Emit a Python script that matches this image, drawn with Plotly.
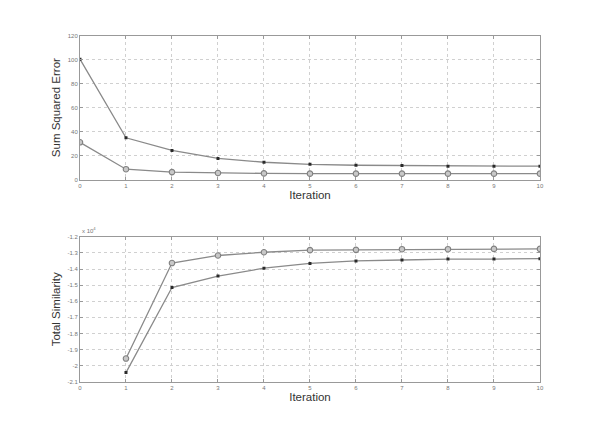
import plotly.graph_objects as go

iterations = [0, 1, 2, 3, 4, 5, 6, 7, 8, 9, 10]
sse_dot = [100.4, 34.9, 24.3, 17.7, 14.5, 12.8, 12.0, 11.7, 11.2, 11.2, 11.2]
sse_circle = [31.1, 8.7, 6.3, 5.5, 5.2, 5.0, 5.0, 5.0, 5.0, 5.0, 5.0]

sim_iterations = [1, 2, 3, 4, 5, 6, 7, 8, 9, 10]
sim_circle = [-1.956, -1.363, -1.316, -1.296, -1.283, -1.281, -1.277, -1.277, -1.275, -1.275]
sim_dot = [-2.043, -1.515, -1.444, -1.395, -1.365, -1.350, -1.344, -1.338, -1.338, -1.336]

sse_ticks = [0, 20, 40, 60, 80, 100, 120]
sim_ticks = [-2.1, -2.0, -1.9, -1.8, -1.7, -1.6, -1.5, -1.4, -1.3, -1.2]
sim_ticktext = ["-2.1", "-2", "-1.9", "-1.8", "-1.7", "-1.6", "-1.5", "-1.4", "-1.3", "-1.2"]

LINE = "#8a8a8a"
DARK = "#2a2a2a"

fig = go.Figure()
fig.add_trace(go.Scatter(x=iterations, y=sse_dot, mode="lines+markers",
                         line=dict(color=LINE, width=1.3),
                         marker=dict(symbol="square", size=3, color=DARK),
                         xaxis="x", yaxis="y"))
fig.add_trace(go.Scatter(x=iterations, y=sse_circle, mode="lines+markers",
                         line=dict(color=LINE, width=1.3),
                         marker=dict(symbol="circle", size=5.5, color="#c8c8c8",
                                     line=dict(width=1.1, color="#808080")),
                         xaxis="x", yaxis="y"))
fig.add_trace(go.Scatter(x=sim_iterations, y=sim_circle, mode="lines+markers",
                         line=dict(color=LINE, width=1.3),
                         marker=dict(symbol="circle", size=5.5, color="#c8c8c8",
                                     line=dict(width=1.1, color="#808080")),
                         xaxis="x2", yaxis="y2"))
fig.add_trace(go.Scatter(x=sim_iterations, y=sim_dot, mode="lines+markers",
                         line=dict(color=LINE, width=1.3),
                         marker=dict(symbol="square", size=3, color=DARK),
                         xaxis="x2", yaxis="y2"))

tickfont = dict(family="Liberation Sans, Arial", size=6, color="#777777")
titlefont = dict(family="Liberation Sans, Arial", size=11.5, color="#333333")

common_x = dict(range=[0, 10], tickvals=iterations, domain=[0.1178, 0.8922],
                showgrid=True, gridcolor="#d0d0d0", griddash="dot", gridwidth=1,
                zeroline=False, showline=True, linecolor="#999999", linewidth=1, mirror="ticks",
                ticks="inside", ticklen=3, tickcolor="#999999", tickfont=tickfont,
                title=dict(text="Iteration", font=titlefont, standoff=2))
common_y = dict(showgrid=True, gridcolor="#d0d0d0", griddash="dot", gridwidth=1,
                zeroline=False, showline=True, linecolor="#999999", linewidth=1, mirror="ticks",
                ticks="inside", ticklen=3, tickcolor="#999999", tickfont=tickfont)

fig.update_layout(
    width=600, height=431,
    margin=dict(l=0, r=0, t=0, b=0),
    paper_bgcolor="white", plot_bgcolor="white",
    showlegend=False,
    xaxis=dict(**common_x, anchor="y"),
    yaxis=dict(**common_y, range=[0, 120], tickvals=sse_ticks, domain=[0.6032, 0.942], anchor="x",
               title=dict(text="Sum Squared Error", font=titlefont, standoff=4)),
    xaxis2=dict(**common_x, anchor="y2"),
    yaxis2=dict(**common_y, range=[-2.1, -1.2], tickvals=sim_ticks, ticktext=sim_ticktext,
                domain=[0.1276, 0.4687], anchor="x2",
                title=dict(text="Total Similarity", font=titlefont, standoff=4)),
    annotations=[dict(text="x 10<sup>4</sup>", x=0.1178, y=0.4695, xref="paper", yref="paper",
                      xanchor="left", yanchor="bottom", showarrow=False,
                      font=dict(family="Liberation Sans, Arial", size=6, color="#777777"))],
)

fig.write_html("out.html")
